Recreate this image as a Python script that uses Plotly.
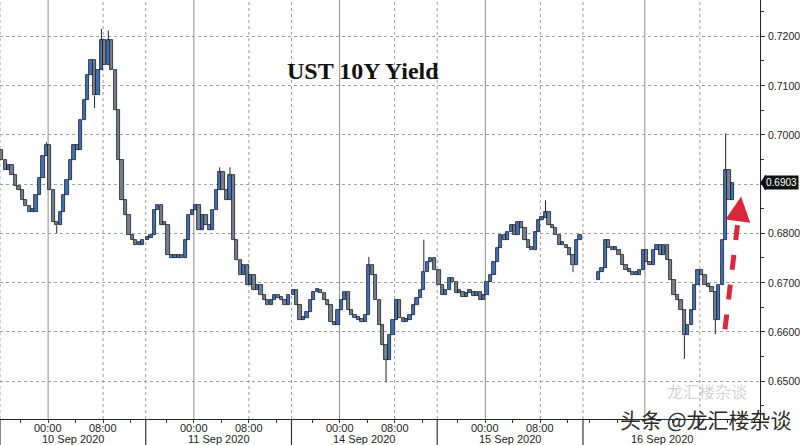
import plotly.graph_objects as go

# ---------------- data ----------------
days = ["10 Sep 2020", "11 Sep 2020", "14 Sep 2020", "15 Sep 2020", "16 Sep 2020"]
session_start_h = [0.0, 21.2, 42.4, 63.6, 84.8]      # trading-time hours on axis
midnight_offset_h = [7, 7, 7, 7, 9]                  # 00:00 position within session
first_bar = [0, 0, 0, 0, 4]                          # 16 Sep: first 2h without prints
bar_hours = 0.5                                      # 30-minute bars
hour_labels_shown = [True, True, True, True, False]  # 16 Sep labels sit under the watermark

first_open = [0.6969, None, None, None, 0.6705]

sep10 = [0.6948, 0.6928, 0.6938, 0.6918, 0.6897, 0.6887, 0.6867, 0.6855, 0.6843, 0.6843,
         0.6877, 0.6912, 0.6958, 0.6979, 0.6887, 0.6823, 0.6816, 0.6843, 0.6877, 0.6908,
         0.6948, 0.6979, 0.6969, 0.7030, 0.7070, 0.7121, 0.7151, 0.7080, 0.7131, 0.7192,
         0.7141, 0.7192, 0.7131, 0.7050, 0.6948, 0.6867, 0.6837, 0.6796, 0.6786, 0.6776,
         0.6776, 0.6786]
sep11 = [0.6790, 0.6796, 0.6847, 0.6857, 0.6816, 0.6816, 0.6755, 0.6749, 0.6749, 0.6755,
         0.6749, 0.6786, 0.6837, 0.6847, 0.6857, 0.6806, 0.6837, 0.6816, 0.6806, 0.6847,
         0.6887, 0.6924, 0.6887, 0.6867, 0.6918, 0.6786, 0.6745, 0.6715, 0.6735, 0.6695,
         0.6715, 0.6685, 0.6695, 0.6674, 0.6664, 0.6654, 0.6664, 0.6674, 0.6668, 0.6664,
         0.6654, 0.6674]
sep14 = [0.6685, 0.6654, 0.6624, 0.6628, 0.6640, 0.6664, 0.6681, 0.6685, 0.6679, 0.6664,
         0.6654, 0.6620, 0.6614, 0.6644, 0.6664, 0.6681, 0.6644, 0.6634, 0.6628, 0.6624,
         0.6620, 0.6634, 0.6735, 0.6715, 0.6664, 0.6614, 0.6573, 0.6543, 0.6593, 0.6624,
         0.6664, 0.6628, 0.6620, 0.6624, 0.6634, 0.6654, 0.6668, 0.6685, 0.6721, 0.6741,
         0.6749, 0.6725]
sep15 = [0.6695, 0.6674, 0.6685, 0.6709, 0.6701, 0.6679, 0.6681, 0.6670, 0.6679, 0.6681,
         0.6672, 0.6681, 0.6664, 0.6674, 0.6701, 0.6715, 0.6741, 0.6770, 0.6796, 0.6786,
         0.6802, 0.6816, 0.6796, 0.6823, 0.6810, 0.6786, 0.6770, 0.6766, 0.6802, 0.6827,
         0.6831, 0.6843, 0.6816, 0.6810, 0.6796, 0.6776, 0.6776, 0.6770, 0.6755, 0.6735,
         0.6786, 0.6796]
sep16 = [0.6722, 0.6730, 0.6786, 0.6770, 0.6766, 0.6766, 0.6755, 0.6735, 0.6725, 0.6721,
         0.6715, 0.6715, 0.6725, 0.6766, 0.6741, 0.6735, 0.6766, 0.6776, 0.6755, 0.6776,
         0.6745, 0.6705, 0.6674, 0.6664, 0.6644, 0.6593, 0.6614, 0.6644, 0.6695, 0.6725,
         0.6715, 0.6695, 0.6691, 0.6681, 0.6624, 0.6695, 0.6786, 0.6928, 0.6867, 0.6903]
closes = [sep10, sep11, sep14, sep15, sep16]

# intrabar extremes (bar index within the day list -> yield)
hi10 = {13: 0.6985, 29: 0.7215, 31: 0.7212}
lo10 = {16: 0.6800, 27: 0.7054}
hi11 = {21: 0.6934, 24: 0.6934}
lo11 = {}
hi14 = {22: 0.6752, 38: 0.6787}
lo14 = {27: 0.6497}
hi15 = {31: 0.6867}
lo15 = {39: 0.6721}
hi16 = {37: 0.7003}
lo16 = {25: 0.6545, 34: 0.6595}
highs = [hi10, hi11, hi14, hi15, hi16]
lows = [lo10, lo11, lo14, lo15, lo16]

y_ticks = [0.65, 0.66, 0.67, 0.68, 0.69, 0.70, 0.71, 0.72]
y_range = [0.64229, 0.72738]
x_range = [0.0, 110.55]

# arrow annotation (time-hours, yield)
arrow_from = (105.45, 0.6605)
arrow_to = (107.8, 0.6875)

FONT = "Liberation Sans, Arial, sans-serif"
MIN_BODY = 0.0006

# ---------------- build OHLC ----------------
xs, o, h, l, c = [], [], [], [], []
prev = None
for k in range(5):
    st = session_start_h[k]
    if first_open[k] is not None:
        prev = first_open[k]
    for i, v in enumerate(closes[k]):
        x = st + bar_hours * (first_bar[k] + i) + bar_hours / 2
        op = prev
        hi = max(op, v, highs[k].get(i, 0))
        lo = min(op, v, lows[k].get(i, 1))
        xs.append(x); o.append(op); h.append(hi); l.append(lo); c.append(v)
        prev = v

body_base = [min(a, b) for a, b in zip(o, c)]
body_h = [max(abs(b - a), MIN_BODY) for a, b in zip(o, c)]
body_col = ["#3f72b6" if b >= a else "#7a8089" for a, b in zip(o, c)]

# wicks only outside of the bodies
wick_x, wick_y = [], []
for x, hi, lo, bb, bh in zip(xs, h, l, body_base, body_h):
    if hi > bb + bh:
        wick_x += [x, x, None]; wick_y += [bb + bh, hi, None]
    if lo < bb:
        wick_x += [x, x, None]; wick_y += [lo, bb, None]

fig = go.Figure()
fig.add_trace(go.Bar(x=xs, y=body_h, base=body_base, width=bar_hours * 0.95,
                     marker=dict(color=body_col, line=dict(color="#161c2b", width=0.8)),
                     showlegend=False, hoverinfo="skip"))
fig.add_trace(go.Scatter(x=wick_x, y=wick_y, mode="lines",
                         line=dict(color="#1c2233", width=1), hoverinfo="skip",
                         showlegend=False))

# ---------------- grid / axes decorations ----------------
shapes = []
tickvals = []
annotations = []
for k in range(5):
    st = session_start_h[k]
    mid = st + midnight_offset_h[k]
    shapes.append(dict(type="line", xref="x", yref="paper", x0=st, x1=st, y0=0, y1=1,
                       line=dict(color="#9a9a9a", width=1, dash="dot"), layer="below"))
    shapes.append(dict(type="line", xref="x", yref="paper", x0=st, x1=st, y0=-0.062, y1=0,
                       line=dict(color="#333333", width=1.2)))
    shapes.append(dict(type="line", xref="x", yref="paper", x0=mid, x1=mid, y0=0, y1=1,
                       line=dict(color="#8c8c8c", width=1), layer="below"))
    shapes.append(dict(type="line", xref="x", yref="paper", x0=mid + 8, x1=mid + 8, y0=0, y1=1,
                       line=dict(color="#9a9a9a", width=1, dash="dot"), layer="below"))
    end = session_start_h[k + 1] if k < 4 else x_range[1]
    for off in range(-8, 24, 4):
        t = mid + off
        if st < t < end:
            tickvals.append(t)
    if hour_labels_shown[k]:
        for off, lab in ((0, "00:00"), (8, "08:00")):
            annotations.append(dict(x=mid + off, y=0, xref="x", yref="paper", xanchor="center",
                                    yanchor="middle", yshift=-9, text=lab, showarrow=False,
                                    font=dict(family=FONT, size=11, color="#222")))

label_centers = [10.6, 31.8, 53.0, 74.2, 96.3]
for k in range(5):
    annotations.append(dict(x=label_centers[k], y=0, xref="x", yref="paper", xanchor="center",
                            yanchor="middle", yshift=-20, text=days[k], showarrow=False,
                            font=dict(family=FONT, size=11, color="#222")))

last = sep16[-1]

# y tick labels (the one hidden by the last-price tag is skipped)
for t in y_ticks:
    if abs(t - last) < 0.002:
        continue
    annotations.append(dict(x=1, y=t, xref="paper", yref="y", xanchor="left", yanchor="middle",
                            xshift=6, text=f"{t:.4f}", showarrow=False,
                            font=dict(family=FONT, size=10.5, color="#222")))

annotations.append(dict(x=52.8, y=0.7129, xref="x", yref="y", xanchor="center",
                        yanchor="middle", text="<b>UST 10Y Yield</b>", showarrow=False,
                        font=dict(family="Liberation Serif, Times New Roman, serif", size=24,
                                  color="#111")))

# last price tag
annotations.append(dict(x=1, y=last, xref="paper", yref="y", xanchor="left", yanchor="middle",
                        xshift=4, text=f"{last:.4f}", showarrow=False, bgcolor="#111111",
                        borderpad=1,
                        font=dict(family=FONT, size=10, color="white")))
shapes.append(dict(type="path", xref="paper", yref="y",
                   path=f"M 1.0005 {last} L 1.0075 {last + 0.0017} L 1.0075 {last - 0.0017} Z",
                   fillcolor="#111111", line=dict(width=0)))

# red dashed arrow
fig.add_trace(go.Scatter(x=[arrow_from[0], arrow_to[0] - 0.15], y=[arrow_from[1], arrow_to[1] - 0.0015],
                         mode="lines", line=dict(color="#d9283c", width=5, dash="dash"),
                         hoverinfo="skip", showlegend=False))
annotations.append(dict(x=arrow_to[0], y=arrow_to[1], xref="x", yref="y",
                        ax=arrow_to[0] - 0.18, ay=arrow_to[1] - 0.0019, axref="x", ayref="y",
                        showarrow=True, arrowhead=2, arrowsize=1.0, arrowwidth=5,
                        arrowcolor="#d9283c", text=""))

# watermark
annotations.append(dict(x=0.93, y=0.068, xref="paper", yref="paper", xanchor="center",
                        yanchor="middle", text="龙汇楼杂谈", showarrow=False,
                        font=dict(family="Noto Sans CJK SC", size=16,
                                  color="rgba(120,120,120,0.35)")))
annotations.append(dict(x=0.929, y=0.0, xref="paper", yref="paper", xanchor="center",
                        yanchor="middle", text="头条 @龙汇楼杂谈", showarrow=False,
                        font=dict(family="Noto Sans CJK SC", size=21, color="#2b2b2b")))

fig.update_layout(
    width=800, height=445,
    margin=dict(l=0, r=40, t=0, b=26, autoexpand=False),
    paper_bgcolor="white", plot_bgcolor="white",
    shapes=shapes, annotations=annotations,
    showlegend=False, barmode="overlay", bargap=0,
    xaxis=dict(range=x_range, tickmode="array", tickvals=tickvals, showticklabels=False,
               showgrid=False, zeroline=False, ticks="outside", ticklen=3, tickcolor="#333",
               showline=True, linecolor="#222", linewidth=1, automargin=False,
               fixedrange=True),
    yaxis=dict(range=y_range, side="right", tickmode="array", tickvals=y_ticks,
               showticklabels=False, showgrid=True, gridcolor="#a0a0a0", griddash="dot",
               gridwidth=1, zeroline=False, ticks="outside", ticklen=4, tickcolor="#333",
               showline=True, linecolor="#222", linewidth=1, automargin=False,
               minor=dict(dtick=0.005, ticks="outside", ticklen=3, tickcolor="#333",
                          showgrid=False)),
)

fig.write_html("out.html", config={"displayModeBar": False},
               post_script="document.body.style.margin='0';document.body.style.overflow='hidden';")
